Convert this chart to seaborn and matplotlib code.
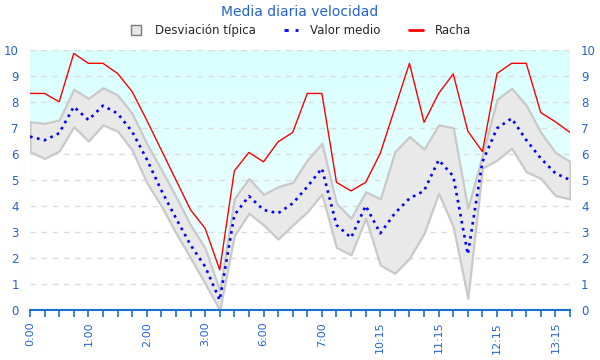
import numpy as np
import pandas as pd
import seaborn as sns
import matplotlib
matplotlib.use("Agg")
import matplotlib.pyplot as plt
from matplotlib.lines import Line2D
from matplotlib.colors import LinearSegmentedColormap

# Data (38 samples)
racha = [8.33, 8.33, 8.01, 9.87, 9.49, 9.49, 9.1, 8.4, 7.3, 6.15,
         5.0, 3.85, 3.14, 1.54, 5.35, 6.06, 5.7, 6.47, 6.83, 8.33,
         8.33, 4.91, 4.58, 4.91, 6.03, 7.76, 9.49, 7.22, 8.33, 9.08,
         6.88, 6.09, 9.1, 9.49, 9.49, 7.59, 7.24, 6.83]
media = [6.67, 6.53, 6.8, 7.82, 7.31, 7.86, 7.56, 6.86, 5.8, 4.6,
         3.53, 2.5, 1.67, 0.38, 3.65, 4.38, 3.85, 3.72, 4.1, 4.74,
         5.45, 3.27, 2.78, 4.01, 2.95, 3.72, 4.29, 4.58, 5.77, 5.15,
         2.14, 5.7, 6.99, 7.37, 6.54, 5.83, 5.26, 5.0]
superior = [7.24, 7.18, 7.31, 8.49, 8.14, 8.55, 8.27, 7.56, 6.4, 5.4,
            4.36, 3.27, 2.37, 0.75, 4.29, 5.06, 4.45, 4.74, 4.91, 5.77,
            6.41, 4.1, 3.53, 4.55, 4.27, 6.09, 6.67, 6.19, 7.12, 7.01,
            3.91, 5.96, 8.1, 8.53, 7.88, 6.83, 6.06, 5.71]
inferior = [6.09, 5.83, 6.12, 7.05, 6.5, 7.12, 6.88, 6.15, 4.9, 4.0,
            2.96, 2.0, 1.01, 0.0, 2.86, 3.72, 3.27, 2.73, 3.27, 3.78,
            4.46, 2.4, 2.12, 3.53, 1.73, 1.41, 1.99, 2.95, 4.49, 3.2,
            0.45, 5.45, 5.77, 6.22, 5.32, 5.06, 4.4, 4.27]
tick_labels = ["0:00", "1:00", "2:00", "3:00", "6:00", "7:00",
               "10:15", "11:15", "12:15", "13:15"]

df = pd.DataFrame({"i": np.arange(len(media)), "racha": racha, "media": media,
                   "sup": superior, "inf": inferior})

blue_txt = "#2563c9"
sns.set_style("white")
plt.rcParams["font.family"] = ["DejaVu Sans"]

fig = plt.figure(figsize=(6, 3.6), dpi=100)
ax = fig.add_axes([0.05, 0.139, 0.90, 0.722])
n = len(media) - 1

# background gradient (cyan at top, fading down)
cmap = LinearSegmentedColormap.from_list("bg", ["#f2ffff", "#d9ffff"])
grad = np.linspace(0, 1, 256).reshape(-1, 1)
ax.imshow(grad, extent=[0, n, 0, 10], origin="lower", aspect="auto",
          cmap=cmap, zorder=0)
ax.fill_between(df["i"], 0, df["inf"], color="white", lw=0, zorder=1)

for y in range(1, 11):
    ax.axhline(y, color="#dcdcdc", lw=1, ls=(0, (4, 4)), zorder=1.5)

ax.fill_between(df["i"], df["inf"], df["sup"], facecolor="#e9e9e9",
                edgecolor="#c9c9c9", lw=1.6, zorder=2)
sns.lineplot(data=df, x="i", y="racha", color="red", lw=1.0, ax=ax, zorder=4)
sns.lineplot(data=df, x="i", y="media", color="blue", lw=1.9, ax=ax, zorder=3,
             linestyle=(0, (1, 1.7)))

ax.set_xlim(0, n)
ax.set_ylim(0, 10)
ax.set_xlabel("")
ax.set_ylabel("")
for s in ["top", "right", "left"]:
    ax.spines[s].set_visible(False)
ax.spines["bottom"].set_color("#1a6fd0")
ax.spines["bottom"].set_linewidth(1.5)
ax.spines["bottom"].set_zorder(5)

ax.set_xticks(np.arange(0, n + 1, 4))
ax.set_xticklabels(tick_labels, rotation=90, color=blue_txt, fontsize=8)
ax.set_xticks(np.arange(0, n + 1), minor=True)
ax.tick_params(axis="x", which="both", direction="out", length=5,
               color="#1a6fd0", width=1.2, bottom=True)
ax.set_yticks(range(0, 11))
ax.tick_params(axis="y", which="both", length=0, labelcolor=blue_txt,
               labelsize=8.5, left=False, labelleft=True, labelright=True,
               pad=8)

fig.suptitle("Media diaria velocidad", color=blue_txt, fontsize=10, y=0.985)
handles = [Line2D([], [], ls="none", marker="s", markersize=7,
                  markerfacecolor="#e6e6e6", markeredgecolor="#7a7a7a"),
           Line2D([], [], color="blue", lw=2, ls=(0, (1.5, 2.5))),
           Line2D([], [], color="red", lw=2)]
fig.legend(handles, ["Desviación típica", "Valor medio", "Racha"],
           loc="center", bbox_to_anchor=(0.5, 0.915), ncol=3, frameon=False,
           fontsize=8.5, handlelength=1.2, columnspacing=2.4,
           handletextpad=1.0)

fig.savefig("out.png", dpi=100)
